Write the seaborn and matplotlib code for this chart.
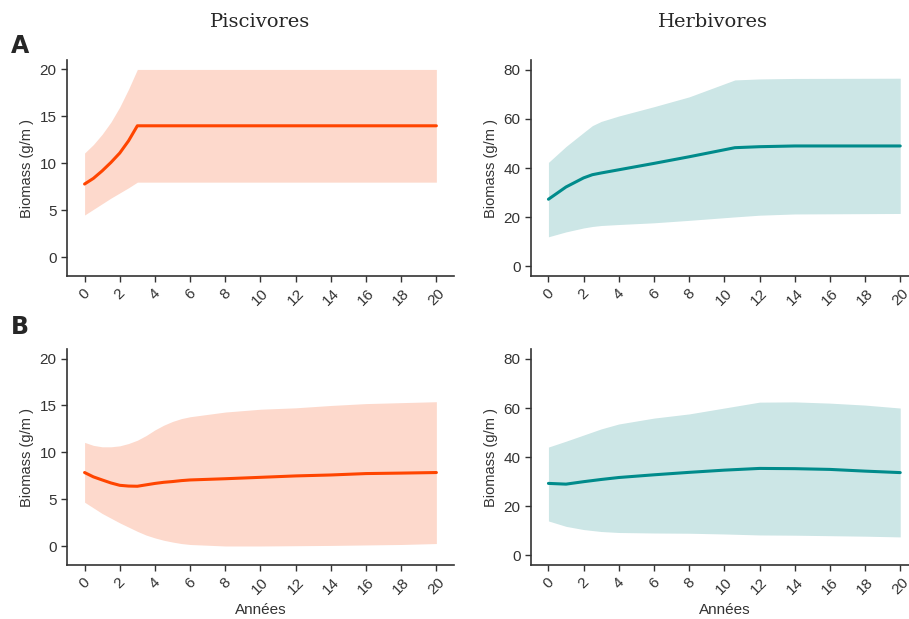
import numpy as np
import pandas as pd
import matplotlib
matplotlib.use("Agg")
import matplotlib.pyplot as plt
import seaborn as sns

# --- données ---
# A, piscivores
yrs_pa = [0, 0.5, 1, 1.5, 2, 2.5, 3, 20]
mean_pa = [7.8, 8.4, 9.2, 10.1, 11.1, 12.4, 14.0, 14.0]
low_pa = [4.5, 5.1, 5.7, 6.3, 6.85, 7.4, 8.0, 8.0]
high_pa = [11.1, 12.0, 13.1, 14.4, 16.0, 17.9, 20.0, 20.0]

# A, herbivores
yrs_ha = [0, 1, 2, 2.5, 3, 4, 6, 8, 10.6, 12, 14, 20]
mean_ha = [27.3, 32.3, 36.0, 37.3, 38.0, 39.3, 41.9, 44.6, 48.3, 48.7, 49.0, 49.0]
low_ha = [12.0, 14.0, 15.6, 16.2, 16.6, 17.0, 17.7, 18.7, 20.1, 20.8, 21.3, 21.5]
high_ha = [42.3, 48.8, 54.5, 57.3, 59.0, 61.2, 65.0, 69.0, 75.9, 76.3, 76.5, 76.6]

# B, piscivores
yrs_pb = [0, 0.5, 1, 1.5, 2, 2.5, 3, 3.5, 4, 4.5, 5, 5.5, 6, 8, 10, 12, 14, 16, 18, 20]
mean_pb = [7.86, 7.4, 7.07, 6.75, 6.5, 6.42, 6.4, 6.55, 6.7, 6.82, 6.9, 7.0, 7.07, 7.2, 7.35,
           7.5, 7.6, 7.75, 7.8, 7.86]
low_pb = [4.7, 4.1, 3.5, 3.0, 2.5, 2.05, 1.6, 1.2, 0.9, 0.65, 0.46, 0.3, 0.2, 0.04, 0.04,
          0.07, 0.1, 0.15, 0.2, 0.3]
high_pb = [11.07, 10.75, 10.6, 10.6, 10.7, 10.95, 11.3, 11.8, 12.4, 12.9, 13.3, 13.6, 13.8,
           14.3, 14.6, 14.75, 15.0, 15.2, 15.3, 15.4]

# B, herbivores
yrs_hb = [0, 1, 2, 3, 4, 6, 8, 10, 12, 14, 16, 18, 20]
mean_hb = [29.3, 29.0, 30.0, 30.9, 31.7, 32.8, 33.8, 34.7, 35.4, 35.3, 35.0, 34.3, 33.7]
low_hb = [14.0, 11.8, 10.5, 9.7, 9.3, 9.1, 9.0, 8.7, 8.3, 8.2, 8.0, 7.8, 7.5]
high_hb = [44.1, 46.5, 49.0, 51.5, 53.5, 55.9, 57.6, 60.0, 62.4, 62.5, 62.0, 61.2, 60.0]

titles = ["Piscivores", "Herbivores"]
row_labels = ["A", "B"]

orange = "#FF4500"
orange_fill = "#FDD9CC"
teal = "#008B8B"
teal_fill = "#CCE6E6"

sns.set_style("ticks")
plt.rcParams["font.family"] = ["Liberation Sans", "DejaVu Sans"]
txt = "#333333"

fig = plt.figure(figsize=(9.09, 6.19), dpi=100)

panels = [
    (yrs_pa, mean_pa, low_pa, high_pa, orange, orange_fill, (-2, 21), [0, 5, 10, 15, 20]),
    (yrs_ha, mean_ha, low_ha, high_ha, teal, teal_fill, (-4, 84), [0, 20, 40, 60, 80]),
    (yrs_pb, mean_pb, low_pb, high_pb, orange, orange_fill, (-2, 21), [0, 5, 10, 15, 20]),
    (yrs_hb, mean_hb, low_hb, high_hb, teal, teal_fill, (-4, 84), [0, 20, 40, 60, 80]),
]
lefts = [0.0737, 0.584]
bottoms = [0.554, 0.087]

for i, (yrs, m, lo, hi, col, fcol, ylim, yt) in enumerate(panels):
    r, c = divmod(i, 2)
    ax = fig.add_axes([lefts[c], bottoms[r], 0.4257, 0.349])
    df = pd.DataFrame({"annee": yrs, "biomass": m, "low": lo, "high": hi})
    ax.fill_between(df["annee"], df["low"], df["high"], color=fcol, lw=0)
    sns.lineplot(data=df, x="annee", y="biomass", color=col, lw=2.2, ax=ax)
    ax.set_xlim(-1, 21)
    ax.set_ylim(*ylim)
    ax.set_yticks(yt)
    ax.set_xticks(np.arange(0, 21, 2))
    ax.tick_params(colors=txt, labelsize=11, length=4, width=1)
    plt.setp(ax.get_xticklabels(), rotation=45)
    for s in ["left", "bottom"]:
        ax.spines[s].set_color(txt)
        ax.spines[s].set_linewidth(1.2)
    sns.despine(ax=ax)
    ax.set_ylabel("Biomass (g/m )", color=txt, fontsize=10.5)
    ax.set_xlabel("Années" if r == 1 else "", color=txt, fontsize=11)
    ax.grid(False)

for c, t in enumerate(titles):
    x = lefts[c] + 0.4257 * (0.5 if c == 0 else 0.47)
    fig.text(x, 0.965, t, ha="center", va="center", fontsize=14, family="DejaVu Serif")

fig.text(0.012, 0.925, "A", fontsize=17, fontweight="black", va="center", family="DejaVu Sans")
fig.text(0.012, 0.472, "B", fontsize=17, fontweight="black", va="center", family="DejaVu Sans")

fig.savefig("out.png", dpi=100)
